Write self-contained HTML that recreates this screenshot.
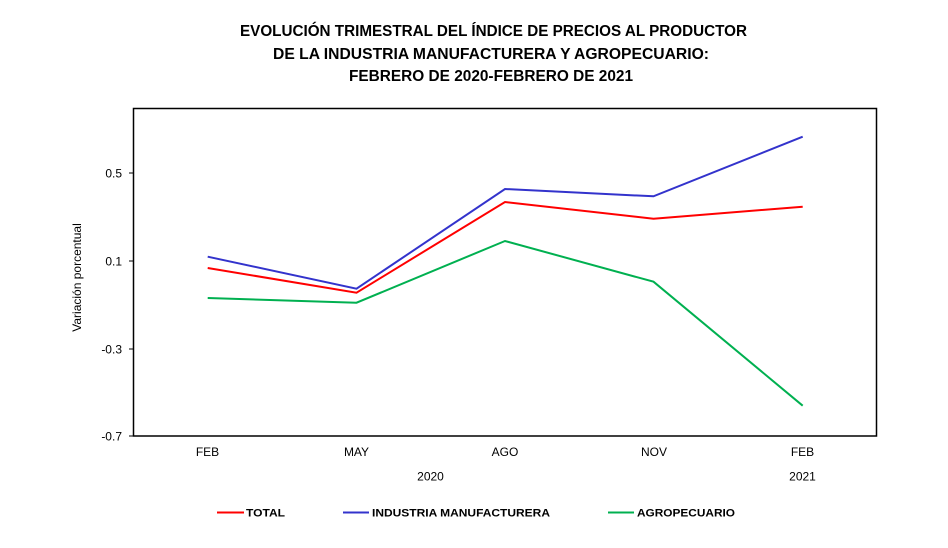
<!DOCTYPE html>
<html><head><meta charset="utf-8"><style>
html,body{margin:0;padding:0;background:#fff;}
svg{display:block;}
</style></head><body>
<svg width="948" height="548" viewBox="0 0 948 548" xmlns="http://www.w3.org/2000/svg">
<rect width="948" height="548" fill="#fff"/>
<g font-family="'Liberation Sans', Arial, sans-serif" font-weight="bold" font-size="16" fill="#000" text-anchor="start">
<text x="240" y="36" textLength="507" lengthAdjust="spacingAndGlyphs">EVOLUCIÓN TRIMESTRAL DEL ÍNDICE DE PRECIOS AL PRODUCTOR</text>
<text x="273" y="59" textLength="436" lengthAdjust="spacingAndGlyphs">DE LA INDUSTRIA MANUFACTURERA Y AGROPECUARIO:</text>
<text x="349" y="81" textLength="284" lengthAdjust="spacingAndGlyphs">FEBRERO DE 2020-FEBRERO DE 2021</text>
</g>
<rect x="133.5" y="108.5" width="743" height="327.5" fill="none" stroke="#000" stroke-width="1.5"/>
<g stroke="#000" stroke-width="1">
<line x1="129" y1="173" x2="133" y2="173"/>
<line x1="129" y1="261" x2="133" y2="261"/>
<line x1="129" y1="349" x2="133" y2="349"/>
<line x1="129" y1="436" x2="133" y2="436"/>
</g>
<g font-family="'Liberation Sans', Arial, sans-serif" font-size="12" fill="#000" text-anchor="end">
<text x="122" y="177.5">0.5</text>
<text x="122" y="265.5">0.1</text>
<text x="122" y="353.5">-0.3</text>
<text x="122" y="440.5">-0.7</text>
</g>
<text transform="translate(81,277.5) rotate(-90)" font-family="'Liberation Sans', Arial, sans-serif" font-size="12" text-anchor="middle" fill="#000">Variación porcentual</text>
<g font-family="'Liberation Sans', Arial, sans-serif" font-size="12" fill="#000" text-anchor="middle">
<text x="207.5" y="456">FEB</text>
<text x="356.5" y="456">MAY</text>
<text x="505" y="456">AGO</text>
<text x="654" y="456">NOV</text>
<text x="802.5" y="456">FEB</text>
<text x="430.5" y="480.5">2020</text>
<text x="802.5" y="480.5">2021</text>
</g>
<g fill="none" stroke-width="2" stroke-linejoin="miter">
<polyline stroke="#00B050" points="207.7,298 356.5,302.7 505,241 653.5,281.7 802.7,405.7"/>
<polyline stroke="#FF0000" points="207.7,268 356.5,292.7 505,202 653.5,218.7 802.7,206.7"/>
<polyline stroke="#3333CC" points="207.7,256.7 356.5,288.7 505,189 653.5,196.3 802.7,136.7"/>
</g>
<g stroke-width="2">
<line x1="217" y1="512.5" x2="244" y2="512.5" stroke="#FF0000"/>
<line x1="343" y1="512.5" x2="369" y2="512.5" stroke="#3333CC"/>
<line x1="608" y1="512.5" x2="634" y2="512.5" stroke="#00B050"/>
</g>
<g font-family="'Liberation Sans', Arial, sans-serif" font-weight="bold" font-size="11" fill="#000">
<text x="246" y="516.5" textLength="39" lengthAdjust="spacingAndGlyphs">TOTAL</text>
<text x="372" y="516.5" textLength="178" lengthAdjust="spacingAndGlyphs">INDUSTRIA MANUFACTURERA</text>
<text x="637" y="516.5" textLength="98" lengthAdjust="spacingAndGlyphs">AGROPECUARIO</text>
</g>
</svg>
</body></html>
